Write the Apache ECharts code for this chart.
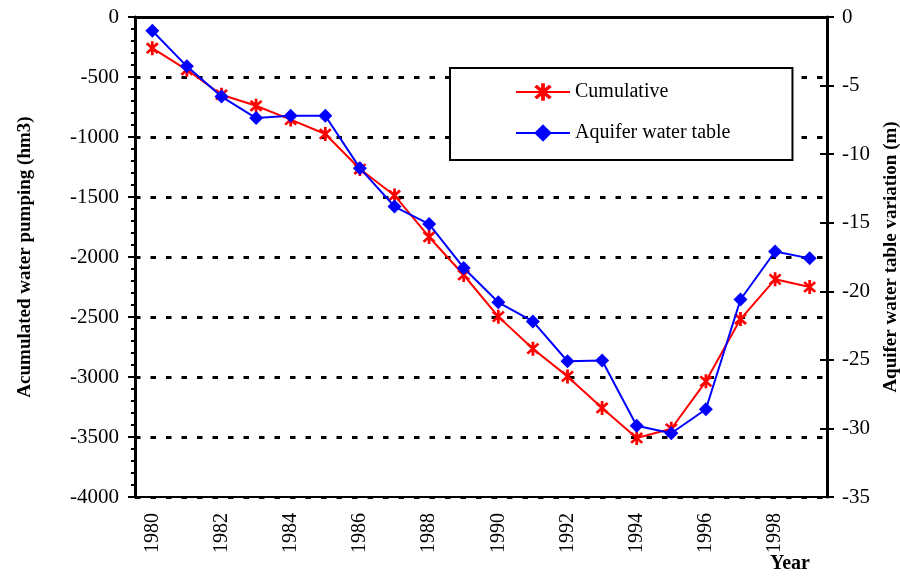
<!DOCTYPE html>
<html>
<head>
<meta charset="utf-8">
<script src="https://cdn.jsdelivr.net/npm/echarts@6/dist/echarts.min.js"></script>
<style>
	html, body { margin: 0; padding: 0; background: #fff; }
	#chart { width: 900px; height: 577px; }
</style>
</head>
<body>
<div id="chart"></div>
<script>
// years on the x axis
var years = ['1980', '1981', '1982', '1983', '1984', '1985', '1986', '1987', '1988', '1989',
	'1990', '1991', '1992', '1993', '1994', '1995', '1996', '1997', '1998', '1999'];
// accumulated water pumping (hm3), left axis
var cumulative = [-260, -440, -648, -740, -855, -975, -1267, -1487, -1833, -2150,
	-2497, -2764, -2995, -3258, -3508, -3431, -3036, -2517, -2186, -2250];
// aquifer water table variation (m), right axis
var waterTable = [-1.0, -3.6, -5.8, -7.37, -7.2, -7.2, -11.02, -13.82, -15.1, -18.3,
	-20.8, -22.2, -25.1, -25.05, -29.8, -30.35, -28.6, -20.6, -17.1, -17.6];

var font = 'Liberation Serif';
// asterisk marker built from three bars
var star = 'path://M-1.8,-10L1.8,-10L1.8,10L-1.8,10Z' +
	'M5.80,-8.34L8.34,-5.80L-5.80,8.34L-8.34,5.80Z' +
	'M-8.34,-5.80L-5.80,-8.34L8.34,5.80L5.80,8.34Z';

var chart = echarts.init(document.getElementById('chart'));
var option = {
	animation: false,
	textStyle: { fontFamily: font },
	grid: {
		left: 135, right: 73, top: 17, bottom: 80,
		outerBoundsMode: 'none',
		show: true, borderColor: '#000', borderWidth: 2
	},
	legend: {
		orient: 'vertical',
		left: 450, top: 68,
		padding: [14, 62, 17, 65],
		itemGap: 21,
		itemWidth: 54,
		itemHeight: 22,
		borderColor: '#000',
		borderWidth: 2,
		backgroundColor: '#fff',
		textStyle: { fontFamily: font, fontSize: 20, color: '#000' },
		data: ['Cumulative', 'Aquifer water table']
	},
	xAxis: {
		type: 'category',
		data: years,
		boundaryGap: true,
		axisLine: { lineStyle: { color: '#000', width: 3 } },
		axisTick: { interval: 0, length: 6, lineStyle: { color: '#000', width: 2 } },
		axisLabel: { interval: 1, rotate: 90, margin: 16, fontSize: 20, color: '#000', fontFamily: font },
		splitLine: { show: false }
	},
	yAxis: [
		{
			type: 'value',
			min: -4000, max: 0, interval: 500,
			name: 'Acumulated water pumping (hm3)',
			nameLocation: 'middle',
			nameGap: 100,
			nameTextStyle: { fontFamily: font, fontSize: 19, fontWeight: 'bold', color: '#000' },
			axisLine: { show: true, lineStyle: { color: '#000', width: 3 } },
			axisTick: { show: true, length: 7, lineStyle: { color: '#000', width: 2 } },
			minorTick: { show: true, splitNumber: 5, length: 4, lineStyle: { color: '#000', width: 2 } },
			axisLabel: {
				margin: 16, fontSize: 21, color: '#000', fontFamily: font,
				formatter: function (v) { return String(v); }
			},
			splitLine: { show: true, lineStyle: { color: '#000', width: 3, type: [5.5, 10] } }
		},
		{
			type: 'value',
			position: 'right',
			min: -35, max: 0, interval: 5,
			name: 'Aquifer water table variation (m)',
			nameLocation: 'middle',
			nameGap: 55,
			nameTextStyle: { fontFamily: font, fontSize: 19, fontWeight: 'bold', color: '#000' },
			axisLine: { show: true, lineStyle: { color: '#000', width: 3 } },
			axisTick: { show: true, length: 7, lineStyle: { color: '#000', width: 2 } },
			axisLabel: {
				margin: 15, fontSize: 21, color: '#000', fontFamily: font,
				formatter: function (v) { return String(v); }
			},
			splitLine: { show: false }
		},
		{
			// inner half of the crossing ticks on the right axis
			type: 'value',
			position: 'right',
			min: -35, max: 0, interval: 5,
			axisLine: { show: false },
			axisTick: { show: true, inside: true, length: 7, lineStyle: { color: '#000', width: 2 } },
			axisLabel: { show: false },
			splitLine: { show: false }
		}
	],
	series: [
		{
			name: 'Cumulative',
			type: 'line',
			yAxisIndex: 0,
			data: cumulative,
			symbol: star,
			symbolSize: [13, 14],
			lineStyle: { color: '#ff0000', width: 2 },
			itemStyle: { color: '#ff0000' },
			z: 3
		},
		{
			name: 'Aquifer water table',
			type: 'line',
			yAxisIndex: 1,
			data: waterTable,
			symbol: 'diamond',
			symbolSize: 14,
			lineStyle: { color: '#0000ff', width: 2 },
			itemStyle: { color: '#0000ff' },
			z: 4
		}
	],
	graphic: [
		{
			type: 'text',
			left: 770, top: 554,
			style: { text: 'Year', fontFamily: font, fontSize: 20, fontWeight: 'bold', fill: '#000' }
		}
	]
};
chart.setOption(option);
</script>
</body>
</html>
